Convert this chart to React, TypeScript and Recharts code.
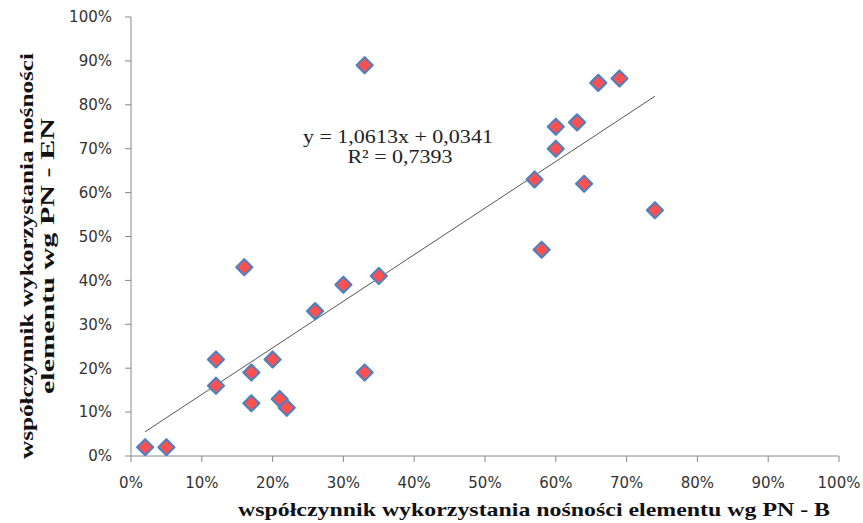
import React from 'react';
import { ScatterChart, Scatter, XAxis, YAxis, ReferenceLine, ReferenceDot, Label } from 'recharts';

// współczynnik wg PN-B (x) and PN-EN (y)
const pnB = [0.02, 0.05, 0.12, 0.12, 0.16, 0.17, 0.17, 0.20, 0.21, 0.22, 0.26, 0.30, 0.33, 0.33, 0.35, 0.57, 0.58, 0.60, 0.60, 0.63, 0.64, 0.66, 0.69, 0.74];
const pnEN = [0.02, 0.02, 0.16, 0.22, 0.43, 0.19, 0.12, 0.22, 0.13, 0.11, 0.33, 0.39, 0.89, 0.19, 0.41, 0.63, 0.47, 0.75, 0.70, 0.76, 0.62, 0.85, 0.86, 0.56];
const axisTicks = [0, 0.1, 0.2, 0.3, 0.4, 0.5, 0.6, 0.7, 0.8, 0.9, 1];

const trendSlope = 1.0613;
const trendIntercept = 0.0341;
const equationLines = ['y = 1,0613x + 0,0341', 'R² = 0,7393'];
const equationAnchor = { x: 0.377, y: 0.727 };

const xTitle = 'współczynnik wykorzystania nośności elementu wg PN - B';
const yTitleLines = ['współczynnik wykorzystania nośności', 'elementu wg PN - EN'];

const points = pnB.map((x, i) => ({ x, y: pnEN[i] }));
const xMin = Math.min(...pnB);
const xMax = Math.max(...pnB);
const trendSegment = [
  { x: xMin, y: trendSlope * xMin + trendIntercept },
  { x: xMax, y: trendSlope * xMax + trendIntercept },
];

const pct = (v: number) => `${Math.round(v * 100)}%`;

const Diamond = (props: any) => {
  const { cx, cy } = props;
  const r = 8;
  return (
    <polygon
      points={`${cx},${cy - r} ${cx + r},${cy} ${cx},${cy + r} ${cx - r},${cy}`}
      fill="#FF4F4F"
      stroke="#4F81BD"
      strokeWidth={2.2}
      strokeLinejoin="round"
    />
  );
};

const serif = '"Liberation Serif", "Times New Roman", serif';
const tickFont = { fontFamily: '"DejaVu Sans", Verdana, sans-serif', fontSize: 15, fill: '#333' };

const XTitle = (props: any) => {
  const vb = props.viewBox;
  const cx = vb.x + vb.width / 2 + 49;
  return (
    <text x={cx} y={516} textAnchor="middle" fontFamily={serif} fontWeight="bold" fontSize={19}
      fill="#111" textLength={592} lengthAdjust="spacingAndGlyphs">
      {xTitle}
    </text>
  );
};

const YTitle = (props: any) => {
  const cy = 256;
  const lengths = [406, 276];
  const xs = [33, 54];
  return (
    <g>
      {yTitleLines.map((t, i) => (
        <text key={i} x={xs[i]} y={cy} transform={`rotate(-90 ${xs[i]} ${cy})`} textAnchor="middle"
          fontFamily={serif} fontWeight="bold" fontSize={19} fill="#111"
          textLength={lengths[i]} lengthAdjust="spacingAndGlyphs">
          {t}
        </text>
      ))}
    </g>
  );
};

const Equation = (props: any) => {
  const vb = props.viewBox;
  const cx = vb.x + vb.width / 2;
  const cy = vb.y + vb.height / 2;
  return (
    <g>
      <text x={cx} y={cy + 6} textAnchor="middle" fontFamily={serif} fontSize={19} fill="#222"
        textLength={190} lengthAdjust="spacingAndGlyphs">{equationLines[0]}</text>
      <text x={cx + 2} y={cy + 26} textAnchor="middle" fontFamily={serif} fontSize={19} fill="#222"
        textLength={105} lengthAdjust="spacingAndGlyphs">{equationLines[1]}</text>
    </g>
  );
};

export default function App() {
  return (
    <div style={{ position: 'absolute', left: 0, top: 0, background: '#fff' }}>
      <ScatterChart width={863} height={523} margin={{ top: 17, right: 24, left: 0, bottom: 0 }}>
        <XAxis
          type="number"
          dataKey="x"
          domain={[0, 1]}
          ticks={axisTicks}
          tickFormatter={pct}
          tick={tickFont}
          tickSize={6}
          tickMargin={15}
          height={67}
          stroke="#888"
          tickLine={{ stroke: '#888' }}
          allowDataOverflow
        >
          <Label content={<XTitle />} position="insideBottom" />
        </XAxis>
        <YAxis
          type="number"
          dataKey="y"
          domain={[0, 1]}
          ticks={axisTicks}
          tickFormatter={pct}
          tick={tickFont}
          tickSize={6}
          tickMargin={13}
          width={131}
          stroke="#888"
          tickLine={{ stroke: '#888' }}
          allowDataOverflow
        >
          <Label content={<YTitle />} position="insideLeft" />
        </YAxis>
        <ReferenceLine segment={trendSegment} stroke="#555" strokeWidth={1} ifOverflow="visible" />
        <Scatter data={points} shape={<Diamond />} isAnimationActive={false} />
        <ReferenceDot x={equationAnchor.x} y={equationAnchor.y} r={0} fill="none" stroke="none"
          ifOverflow="visible" label={<Equation />} />
      </ScatterChart>
    </div>
  );
}
